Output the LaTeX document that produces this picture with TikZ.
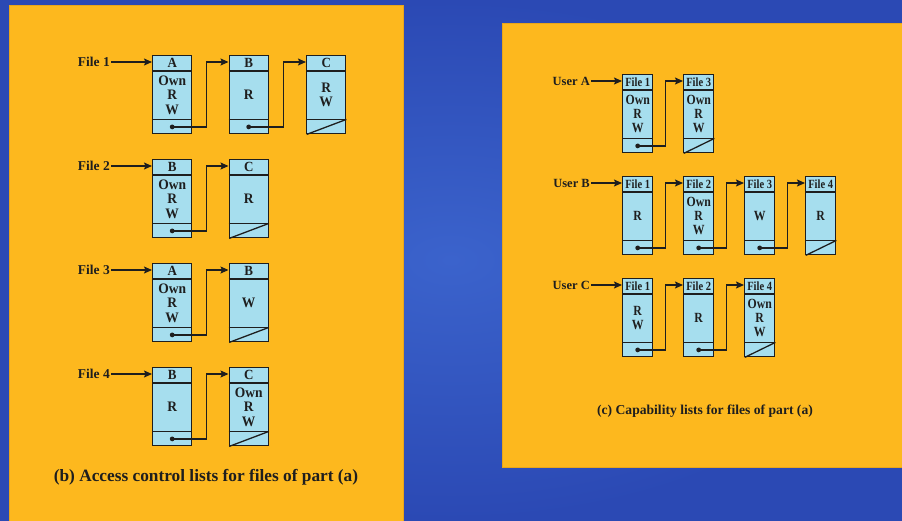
\documentclass[tikz,border=0pt]{standalone}
\usepackage{fontspec}
\setmainfont{Liberation Serif}
\newfontfamily\cellfont[FakeStretch=0.93]{Liberation Serif}
\newfontfamily\cellfontn[FakeStretch=0.84]{Liberation Serif}
\usetikzlibrary{arrows.meta,calc}
\definecolor{bgdark}{HTML}{2B49B4}
\definecolor{bglight}{HTML}{3B63CC}
\definecolor{panel}{HTML}{FDB81E}
\definecolor{paneledge}{HTML}{E9A51A}
\definecolor{cellc}{HTML}{A6DEEE}
\definecolor{ink}{HTML}{1E1E1E}
\tikzset{
 cellbox/.style={draw=ink, line width=1.4pt, fill=cellc, minimum height=78pt, inner sep=0pt, anchor=north west},
 sepline/.style={draw=ink, line width=1.3pt},
 conn/.style={draw=ink, line width=1.3pt, -{Stealth[length=8pt,width=7pt,inset=1.5pt]}},
 dotn/.style={circle, fill=ink, inner sep=0pt, minimum size=4.8pt},
 lab/.style={font=\bfseries\fontsize{13.5}{14}\selectfont, anchor=east, inner sep=1pt, text=ink},
 ulab/.style={font=\bfseries\fontsize{12.5}{14}\selectfont, anchor=east, inner sep=1pt, text=ink},
 captext/.style={font=\bfseries\fontsize{17.3}{20}\selectfont, text=ink},
}
\newcommand\cell[6]{%
 \node[cellbox, minimum width=#4pt] (#1) at (#2,#3) {};
 \draw[sepline] ([yshift=-16pt]#1.north west) -- ([yshift=-16pt]#1.north east);
 \draw[sepline] ([yshift=15pt]#1.south west) -- ([yshift=15pt]#1.south east);
 \node[hdrfont, inner sep=0pt, text=ink] (#1-h) at ([yshift=-8pt]#1.north) {#5};
 \node[bdyfont, align=center, inner sep=0pt, text=ink] (#1-b) at ([yshift=-0.5pt]#1.center) {#6};
}
\newcommand\ptr[1]{\node[dotn] (#1-d) at ([yshift=7.5pt]#1.south) {};}
\newcommand\nil[1]{\draw[sepline] ([xshift=0.7pt]#1.south west) -- ([yshift=15pt]#1.south east);}
\newcommand\lnk[2]{\draw[conn] (#1-d.center) -| ($(#1.east)!0.4!(#2.west)$) |- ([yshift=-7pt]#2.north west);}
\begin{document}
\begin{tikzpicture}[x=1pt,y=-1pt]
\useasboundingbox (0,0) rectangle (902,520);
\shade[inner color=bglight, outer color=bgdark] (0,0) rectangle (902,520);
\fill[panel, draw=paneledge, line width=0.6pt] (9,5) rectangle (403,521);
\fill[panel, draw=paneledge, line width=0.6pt] (502,23) rectangle (903,467);

% ---------- (b) access control lists ----------
\begin{scope}[hdrfont/.style={font=\cellfont\bfseries\fontsize{14}{14}\selectfont},
              bdyfont/.style={font=\cellfont\bfseries\fontsize{14.5}{14.2}\selectfont}]
% File 1
\cell{f1a}{152}{55}{39}{A}{Own\\R\\W} \ptr{f1a}
\cell{f1b}{228.5}{55}{39}{B}{R} \ptr{f1b}
\cell{f1c}{306}{55}{39}{C}{R\\W} \nil{f1c}
\node[lab] (L1) at (111,62) {File 1};
\draw[conn] (L1) -- (f1a.west |- L1);
\lnk{f1a}{f1b} \lnk{f1b}{f1c}
% File 2
\cell{f2b}{152}{159}{39}{B}{Own\\R\\W} \ptr{f2b}
\cell{f2c}{228.5}{159}{39}{C}{R} \nil{f2c}
\node[lab] (L2) at (111,166) {File 2};
\draw[conn] (L2) -- (f2b.west |- L2);
\lnk{f2b}{f2c}
% File 3
\cell{f3a}{152}{263}{39}{A}{Own\\R\\W} \ptr{f3a}
\cell{f3b}{228.5}{263}{39}{B}{W} \nil{f3b}
\node[lab] (L3) at (111,270) {File 3};
\draw[conn] (L3) -- (f3a.west |- L3);
\lnk{f3a}{f3b}
% File 4
\cell{f4b}{152}{367}{39}{B}{R} \ptr{f4b}
\cell{f4c}{228.5}{367}{39}{C}{Own\\R\\W} \nil{f4c}
\node[lab] (L4) at (111,374) {File 4};
\draw[conn] (L4) -- (f4b.west |- L4);
\lnk{f4b}{f4c}
\end{scope}
\node[captext] (capb) at (206,477) {(b) Access control lists for files of part (a)};

% ---------- (c) capability lists ----------
\begin{scope}[hdrfont/.style={font=\cellfontn\bfseries\fontsize{12.5}{12}\selectfont},
              bdyfont/.style={font=\cellfontn\bfseries\fontsize{14}{14.2}\selectfont}]
% User A
\cell{ua1}{622}{74}{30}{File 1}{Own\\R\\W} \ptr{ua1}
\cell{ua3}{683}{74}{30}{File 3}{Own\\R\\W} \nil{ua3}
\node[ulab] (UA) at (591,81) {User A};
\draw[conn] (UA) -- (ua1.west |- UA);
\lnk{ua1}{ua3}
% User B
\cell{ub1}{622}{176}{30}{File 1}{R} \ptr{ub1}
\cell{ub2}{683}{176}{30}{File 2}{Own\\R\\W} \ptr{ub2}
\cell{ub3}{744}{176}{30}{File 3}{W} \ptr{ub3}
\cell{ub4}{805}{176}{30}{File 4}{R} \nil{ub4}
\node[ulab] (UB) at (591,183) {User B};
\draw[conn] (UB) -- (ub1.west |- UB);
\lnk{ub1}{ub2} \lnk{ub2}{ub3} \lnk{ub3}{ub4}
% User C
\cell{uc1}{622}{278}{30}{File 1}{R\\W} \ptr{uc1}
\cell{uc2}{683}{278}{30}{File 2}{R} \ptr{uc2}
\cell{uc4}{744}{278}{30}{File 4}{Own\\R\\W} \nil{uc4}
\node[ulab] (UC) at (591,285) {User C};
\draw[conn] (UC) -- (uc1.west |- UC);
\lnk{uc1}{uc2} \lnk{uc2}{uc4}
\end{scope}
\node[captext, font=\bfseries\fontsize{13.6}{16}\selectfont] (capc) at (705,411) {(c) Capability lists for files of part (a)};
\end{tikzpicture}
\end{document}
